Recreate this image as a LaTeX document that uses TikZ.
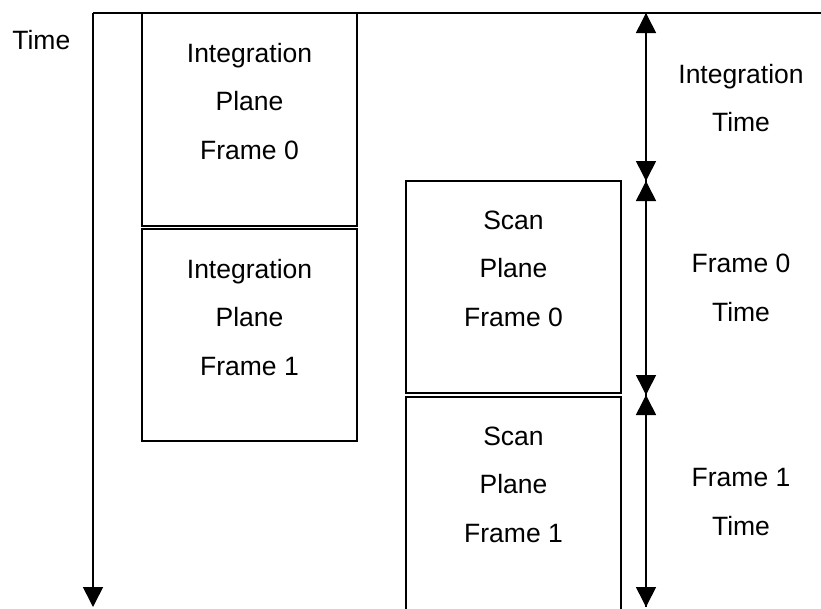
\documentclass[tikz,border=0pt]{standalone}
\usepackage{fontspec}
\setmainfont{Liberation Sans}
\usetikzlibrary{arrows.meta}
\begin{document}
\begin{tikzpicture}[x=1pt,y=-1pt,
  line width=1.6pt,
  every node/.style={font=\fontsize{26.5}{48.5}\selectfont},
  planebox/.style={draw, line width=1.6pt, minimum width=215pt, inner sep=0pt, outer sep=0pt},
  planetext/.style={align=center, inner sep=0pt, anchor=north},
  sidetext/.style={align=center, inner sep=0pt, anchor=center},
  tip/.style={-{Triangle[width=20pt,length=20pt]}},
  dtip/.style={{Triangle[width=20pt,length=20pt]}-{Triangle[width=20pt,length=20pt]}}]
\useasboundingbox (0,0) rectangle (821,608);

% axes
\coordinate (tl) at (93,13);
\coordinate (tr) at (830,13);
\coordinate (tb) at (93,607);
\draw (tl) -- (tr);
\draw[tip] (tl) -- (tb);
\node[anchor=base, inner sep=0pt] (timelbl) at (41.3,49.3) {Time};

% integration plane boxes
\node[planebox, minimum height=213pt] (I1) at (249.5,119.5) {};
\node[planebox, minimum height=212pt] (I2) at (249.5,335) {};
% scan plane boxes
\node[planebox, minimum height=212pt] (S1) at (513.5,287) {};
\node[planebox, minimum height=220pt] (S2) at (513.5,507) {};

\node[planetext] (I1t) at ([yshift=-29pt]I1.north) {Integration\\Plane\\Frame 0};
\node[planetext] (I2t) at ([yshift=-29pt]I2.north) {Integration\\Plane\\Frame 1};
\node[planetext] (S1t) at ([yshift=-29pt]S1.north) {Scan\\Plane\\Frame 0};
\node[planetext] (S2t) at ([yshift=-29pt]S2.north) {Scan\\Plane\\Frame 1};

% time span arrows
\coordinate (a0) at (646,13);
\coordinate (a1) at (646,181);
\coordinate (a2) at (646,395);
\coordinate (a3) at (646,607);
\draw[tip] (a1) -- (a0);
\draw[tip] (a0) -- (a1);
\draw[tip] (a2) -- (a1);
\draw[tip] (a1) -- (a2);
\draw[tip] (a3) -- (a2);
\draw[tip] (a2) -- (a3);

\node[sidetext] (L0) at (741,98) {Integration\\Time};
\node[sidetext] (L1) at (741,288) {Frame 0\\Time};
\node[sidetext] (L2) at (741,502) {Frame 1\\Time};
\end{tikzpicture}
\end{document}
